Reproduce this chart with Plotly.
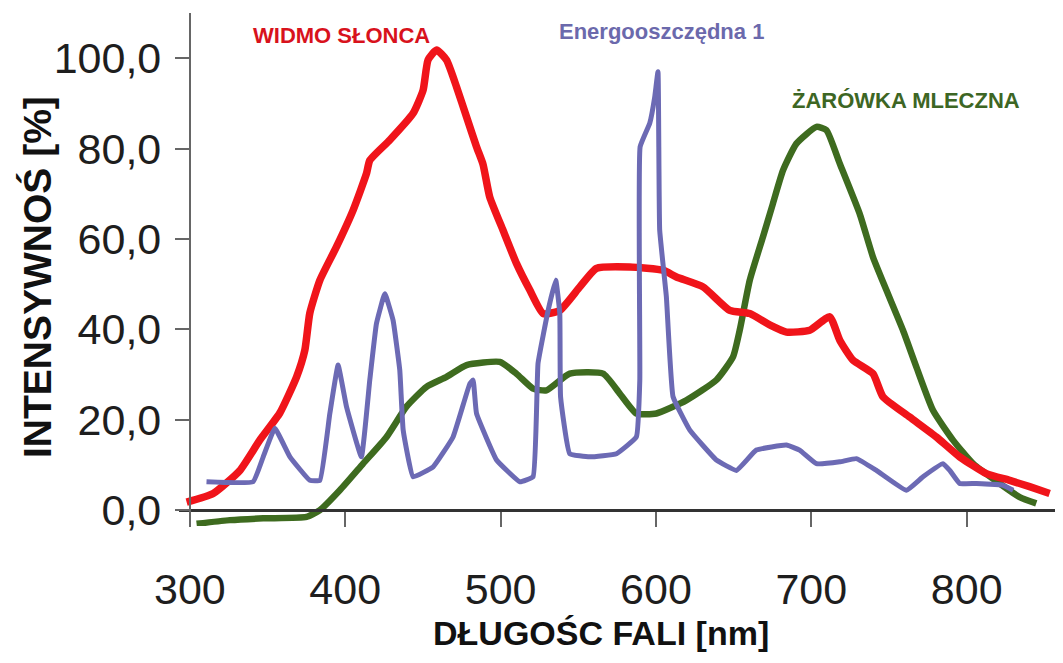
import plotly.graph_objects as go

# ---- data ----
sun_nm = [297.9, 315.0, 332.2, 345.0, 357.9, 368.7, 374.0, 377.2, 383.7, 394.4, 405.1, 413.7,
          415.8, 428.7, 443.7, 450.1, 453.3, 458.8, 465.2, 471.6, 478.1, 484.5, 488.7, 493.0,
          501.6, 510.2, 518.8, 527.4, 538.1, 551.0, 561.7, 583.1, 604.6, 613.2, 630.3, 647.5,
          660.4, 673.2, 684.0, 699.0, 711.8, 718.3, 726.8, 739.7, 746.1, 763.3, 780.5, 795.5,
          812.7, 827.7, 840.5, 853.4]
sun_val = [1.8, 3.7, 8.8, 15.5, 21.5, 29.5, 35.4, 43.6, 50.9, 58.3, 66.4, 74.5,
           77.4, 81.9, 87.8, 92.9, 99.6, 101.8, 99.6, 93.7, 87.0, 80.4, 76.5, 69.3,
           61.9, 54.6, 48.7, 43.5, 44.2, 49.4, 53.5, 53.8, 53.1, 51.6, 49.4, 44.2,
           43.5, 41.0, 39.4, 39.8, 42.8, 37.6, 33.2, 30.2, 25.1, 20.6, 16.2, 11.8,
           8.1, 6.6, 5.2, 3.7]

bulb_nm = [304.3, 325.7, 347.2, 375.1, 383.7, 396.5, 411.5, 426.6, 439.4, 452.3, 465.2, 478.1,
           499.5, 510.2, 520.9, 529.5, 544.5, 566.0, 576.7, 587.4, 600.3, 619.5, 638.9, 649.6,
           653.9, 660.4, 668.9, 675.0, 681.8, 690.4, 703.3, 709.7, 718.3, 731.1, 739.7, 748.3,
           759.0, 767.6, 778.3, 791.2, 804.1, 821.2, 834.1, 844.8]
bulb_val = [-3.0, -2.2, -1.8, -1.5, 0.0, 4.4, 10.3, 16.2, 22.9, 27.3, 29.5, 32.1,
            32.8, 30.2, 26.9, 26.5, 30.2, 30.2, 25.8, 21.4, 21.4, 24.3, 28.8, 33.9,
            39.8, 50.9, 60.5, 67.5, 75.2, 81.1, 84.8, 84.1, 76.7, 65.6, 56.0, 48.7,
            39.8, 31.7, 22.1, 15.5, 10.3, 5.9, 2.9, 1.5]

cfl_nm = [310.7, 340.7, 347.2, 354.7, 364.4, 377.2, 383.7, 390.1, 395.4, 400.8, 410.4, 415.8,
          420.1, 425.5, 430.8, 435.1, 437.3, 443.7, 456.6, 469.4, 480.2, 482.3, 484.5, 497.4,
          512.4, 520.9, 524.1, 530.6, 535.5, 538.1, 538.6, 544.5, 557.4, 574.6, 587.4, 589.6,
          589.8, 596.0, 599.2, 601.3, 602.4, 606.7, 611.0, 621.8, 638.9, 651.8, 664.6, 684.0,
          692.5, 703.3, 718.3, 729.0, 741.9, 761.2, 771.9, 784.7, 789.1, 795.5, 806.3, 823.4,
          829.9]
cfl_val = [6.3, 6.3, 11.8, 18.1, 11.8, 6.6, 6.6, 21.4, 32.1, 22.9, 11.8, 28.8,
           41.3, 47.9, 42.0, 31.0, 17.7, 7.4, 9.6, 16.2, 28.0, 28.8, 21.4, 11.1,
           6.3, 7.4, 32.5, 44.2, 50.9, 43.5, 25.1, 12.5, 11.8, 12.5, 16.2, 28.8,
           80.4, 85.6, 91.4, 97.0, 62.0, 47.2, 25.1, 17.7, 11.1, 8.8, 13.3, 14.4,
           13.3, 10.3, 10.7, 11.4, 8.8, 4.4, 7.4, 10.3, 8.8, 5.9, 5.9, 5.5,
           4.4]

x_ticks = [300, 400, 500, 600, 700, 800]
y_ticks = [0, 20, 40, 60, 80, 100]
y_tick_text = ["0,0", "20,0", "40,0", "60,0", "80,0", "100,0"]

series_names = ["ŻARÓWKA MLECZNA", "WIDMO SŁONCA", "Energooszczędna 1"]

# ---- styling ----
RED = "#f0141a"
GREEN = "#3e6b1f"
PURPLE = "#6c6ab4"
TICKFONT = dict(family="Liberation Sans, Arial, sans-serif", size=43, color="#1e1e1e")
TITLEFONT = "Liberation Sans, Arial, sans-serif"

X_RANGE = [293, 862]
Y_RANGE = [-3.5, 110]

# the page body has a default 8px margin: build the figure 8px smaller and offset
OFF = 8
W_FIG, H_FIG = 1063 - OFF, 663 - OFF
L, T, B = 179 - OFF, 13 - OFF, 137
PW = W_FIG - L
PH = H_FIG - T - B


def paper_x(px):
    return (px - OFF - L) / PW


def paper_y(py):
    return (T + PH - (py - OFF)) / PH


fig = go.Figure()
fig.add_trace(go.Scatter(x=bulb_nm, y=bulb_val, mode="lines", name=series_names[0],
                         line=dict(color=GREEN, width=6.5, shape="spline", smoothing=0.5)))
fig.add_trace(go.Scatter(x=sun_nm, y=sun_val, mode="lines", name=series_names[1],
                         line=dict(color=RED, width=7.5, shape="spline", smoothing=0.5)))
fig.add_trace(go.Scatter(x=cfl_nm, y=cfl_val, mode="lines", name=series_names[2],
                         line=dict(color=PURPLE, width=5, shape="spline", smoothing=0.3)))

x_pos = (0 - Y_RANGE[0]) / (Y_RANGE[1] - Y_RANGE[0])
y_pos = (300 - X_RANGE[0]) / (X_RANGE[1] - X_RANGE[0])

fig.update_layout(
    width=W_FIG, height=H_FIG,
    margin=dict(l=L, r=0, t=T, b=B, autoexpand=False),
    paper_bgcolor="white", plot_bgcolor="white",
    showlegend=False,
    xaxis=dict(range=X_RANGE, tickvals=x_ticks, ticktext=[str(v) for v in x_ticks],
               showgrid=False, zeroline=False, showline=True, linecolor="#333333", linewidth=2.5,
               ticks="outside", ticklen=15, tickwidth=2, tickcolor="#666666",
               anchor="free", position=x_pos, tickfont=TICKFONT, ticklabelstandoff=25),
    yaxis=dict(range=Y_RANGE, tickvals=y_ticks, ticktext=y_tick_text,
               showgrid=False, zeroline=False, showline=True, linecolor="#666666", linewidth=2,
               ticks="outside", ticklen=14, tickwidth=2, tickcolor="#666666",
               anchor="free", position=y_pos, tickfont=TICKFONT, ticklabelstandoff=5),
)

annotations = [
    dict(x=397.5, y=105.1, text="WIDMO SŁONCA", color="#d8121c"),
    dict(x=603.4, y=105.8, text="Energooszczędna 1", color="#6b69ac"),
    dict(x=761.2, y=90.7, text="ŻARÓWKA MLECZNA", color="#3d6624"),
]
for a in annotations:
    fig.add_annotation(x=a["x"], y=a["y"], xref="x", yref="y", text=a["text"], showarrow=False,
                       xanchor="center", yanchor="middle",
                       font=dict(family=TITLEFONT, size=22, color=a["color"], weight="bold"))

# axis titles
fig.add_annotation(x=paper_x(37), y=paper_y(277), xref="paper", yref="paper",
                   text="INTENSYWNOŚ [%]", showarrow=False, textangle=-90,
                   xanchor="center", yanchor="middle",
                   font=dict(family=TITLEFONT, size=39, color="#111111", weight="bold"))
fig.add_annotation(x=paper_x(601), y=paper_y(633), xref="paper", yref="paper",
                   text="DŁUGOŚC FALI [nm]", showarrow=False,
                   xanchor="center", yanchor="middle",
                   font=dict(family=TITLEFONT, size=34, color="#111111", weight="bold"))

fig.write_html("out.html")
